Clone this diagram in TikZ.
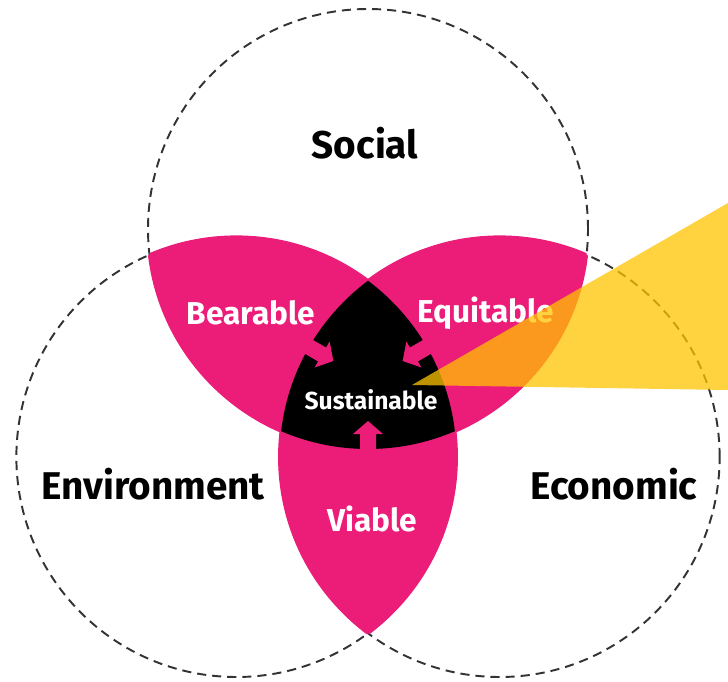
\documentclass[tikz,border=0pt]{standalone}
\usepackage{fontspec}
\setmainfont{Fira Sans}
\usepackage{tikz}
\definecolor{lenspink}{RGB}{236,28,121}
\definecolor{beamyellow}{RGB}{255,196,0}

\begin{document}
\begin{tikzpicture}[font=\bfseries]
  \tikzstyle{ring}=[draw=black!80,line width=0.55pt,dash pattern=on 2.6pt off 1.7pt]
  \tikzstyle{lens}=[fill=lenspink,draw=lenspink,line width=0.9pt]
  \tikzstyle{area label}=[font=\fontsize{11}{13}\selectfont\bfseries,text=black]
  \tikzstyle{lens label}=[font=\fontsize{9}{11}\selectfont\bfseries,text=white]
  \tikzstyle{core label}=[font=\fontsize{7}{9}\selectfont\bfseries,text=white]
  \useasboundingbox (0,0) rectangle (7.28,6.81);

  \coordinate (C)  at (3.68,3.00);
  \coordinate (S)  at ([shift={(90:1.52)}]C);
  \coordinate (En) at ([shift={(210:1.52)}]C);
  \coordinate (Ec) at ([shift={(330:1.52)}]C);

  \foreach \c in {S,En,Ec}
    \draw[ring] (\c) circle (2.2);

  % overlaps of two
  \foreach \a/\b in {S/En,En/S,S/Ec,Ec/S,En/Ec,Ec/En} {
    \begin{scope}
      \clip (\a) circle (2.2);
      \path[lens] (\b) circle (2.2);
    \end{scope}
  }
  % overlap of all three
  \begin{scope}
    \clip (S) circle (2.2);
    \clip (En) circle (2.2);
    \fill[black] (Ec) circle (2.2);
  \end{scope}
  \foreach \a in {-90,30,150}
    \fill[lenspink,shift={(C)},rotate=\a]
      (0.40,0) -- (0.53,0.15) -- (0.53,0.08) -- (0.74,0.08)
      -- (0.74,-0.08) -- (0.53,-0.08) -- (0.53,-0.15) -- cycle;

  \node[area label] (social) at (3.65,5.38) {Social};
  \node[area label] (env)    at (1.53,1.97) {Environment};
  \node[area label] (eco)    at (6.14,1.97) {Economic};
  \node[lens label] (bear)   at (2.51,3.68) {Bearable};
  \node[lens label] (equi)   at (4.86,3.68) {Equitable};
  \node[lens label] (via)    at (3.72,1.62) {Viable};
  \node[core label] (sus)    at (3.71,2.81) {Sustainable};

  \fill[beamyellow,fill opacity=0.75] (4.12,2.96) -- (7.28,4.78) -- (7.28,2.91) -- cycle;
\end{tikzpicture}
\end{document}
